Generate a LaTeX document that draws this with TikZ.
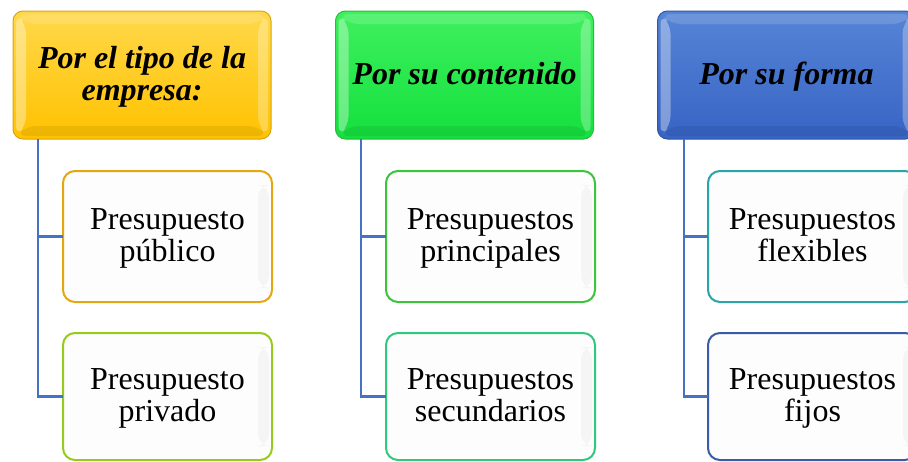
\documentclass[tikz,border=0pt]{standalone}
\usepackage{fontspec}
\setmainfont{Liberation Serif}
\usetikzlibrary{calc}
\definecolor{linkblue}{HTML}{4472C4}
\definecolor{yTop}{HTML}{FFD84A}
\definecolor{yBot}{HTML}{FFC200}
\definecolor{yLine}{HTML}{D9A514}
\definecolor{gTop}{HTML}{3FF05E}
\definecolor{gBot}{HTML}{14E03E}
\definecolor{gLine}{HTML}{2DB83F}
\definecolor{bTop}{HTML}{5684D6}
\definecolor{bBot}{HTML}{3764C4}
\definecolor{bLine}{HTML}{2F56A3}
\definecolor{kFill}{HTML}{FDFDFD}
\definecolor{cA}{HTML}{E5A612}
\definecolor{cB}{HTML}{96CB1E}
\definecolor{cC}{HTML}{3CC43C}
\definecolor{cD}{HTML}{2FC87C}
\definecolor{cE}{HTML}{2AA5A5}
\definecolor{cF}{HTML}{3A5BA5}
\newcommand\hdrbevel{%
  \fill[white,opacity=0.35] ($(path picture bounding box.north west)+(3,3)$) -- ($(path picture bounding box.north west)+(13,13)$) -- ($(path picture bounding box.south west)+(13,-13)$) -- ($(path picture bounding box.south west)+(3,-3)$) -- cycle;
  \fill[white,opacity=0.28] ($(path picture bounding box.north east)+(-3,3)$) -- ($(path picture bounding box.north east)+(-13,13)$) -- ($(path picture bounding box.south east)+(-13,-13)$) -- ($(path picture bounding box.south east)+(-3,-3)$) -- cycle;
  \fill[white,opacity=0.15] ($(path picture bounding box.north west)+(3,3)$) -- ($(path picture bounding box.north east)+(-3,3)$) -- ($(path picture bounding box.north east)+(-13,13)$) -- ($(path picture bounding box.north west)+(13,13)$) -- cycle;
  \fill[black,opacity=0.07] ($(path picture bounding box.south west)+(3,-3)$) -- ($(path picture bounding box.south east)+(-3,-3)$) -- ($(path picture bounding box.south east)+(-13,-13)$) -- ($(path picture bounding box.south west)+(13,-13)$) -- cycle;
}
\newcommand\kidbevel{%
  \shade[left color=kFill,right color=black!4] ($(path picture bounding box.north east)+(-14,14)$) rectangle ($(path picture bounding box.south east)+(-3,-14)$);
}
\newcommand\lowtext[1]{\raisebox{-3pt}[\height][\depth]{\begin{tabular}{@{}c@{}}#1\end{tabular}}}
\begin{document}
\begin{tikzpicture}[x=1pt,y=-1pt,
  hdr/.style={draw, rounded corners=10pt, minimum width=258pt, minimum height=128pt,
    inner sep=0pt, outer sep=0pt, line width=1pt,
    font=\fontsize{32}{32}\selectfont\bfseries\itshape, path picture={\hdrbevel}},
  kid/.style={draw, rounded corners=12pt, minimum width=209pt, inner sep=0pt, outer sep=0pt,
    fill=kFill, line width=2pt,
    font=\fontsize{32}{32}\selectfont, path picture={\kidbevel}},
  conn/.style={draw=linkblue, line width=2.5pt}]
\useasboundingbox (0,0) rectangle (908,461);
\clip (0,0) rectangle (908,461);

% column 1
\node[hdr, draw=yLine, top color=yTop, bottom color=yBot] (h1) at (142,75) {\lowtext{Por el tipo de la\\empresa:}};
\node[kid, draw=cA, minimum height=131pt] (c11) at (167.5,236.5) {\lowtext{Presupuesto\\público}};
\node[kid, draw=cB, minimum height=127pt] (c12) at (167.5,396.5) {\lowtext{Presupuesto\\privado}};
\coordinate (t1) at (38,139);
\draw[conn] (t1) |- (c11.west);
\draw[conn] (t1) |- (c12.west);

% column 2
\node[hdr, draw=gLine, top color=gTop, bottom color=gBot] (h2) at (464.5,75) {\lowtext{Por su contenido}};
\node[kid, draw=cC, minimum height=131pt] (c21) at (490.5,236.5) {\lowtext{Presupuestos\\principales}};
\node[kid, draw=cD, minimum height=127pt] (c22) at (490.5,396.5) {\lowtext{Presupuestos\\secundarios}};
\coordinate (t2) at (361,139);
\draw[conn] (t2) |- (c21.west);
\draw[conn] (t2) |- (c22.west);

% column 3
\node[hdr, draw=bLine, top color=bTop, bottom color=bBot] (h3) at (786.5,75) {\lowtext{Por su forma}};
\node[kid, draw=cE, minimum height=131pt] (c31) at (812.5,236.5) {\lowtext{Presupuestos\\flexibles}};
\node[kid, draw=cF, minimum height=127pt] (c32) at (812.5,396.5) {\lowtext{Presupuestos\\fijos}};
\coordinate (t3) at (684,139);
\draw[conn] (t3) |- (c31.west);
\draw[conn] (t3) |- (c32.west);
\end{tikzpicture}
\end{document}
